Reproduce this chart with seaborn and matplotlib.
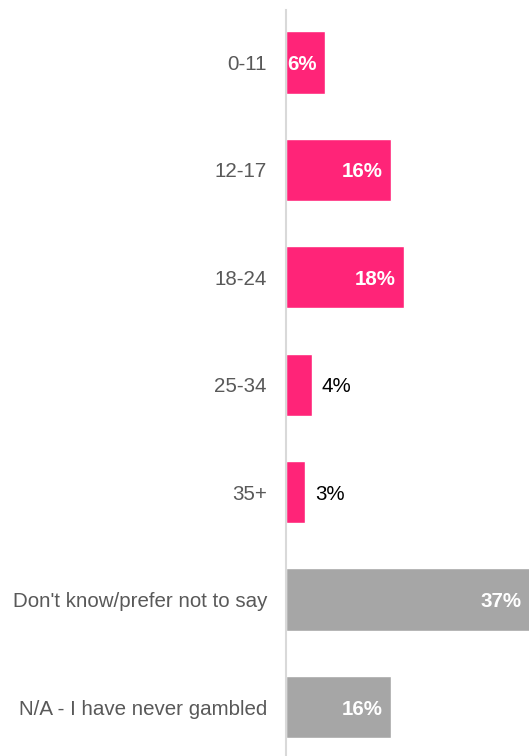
import matplotlib
matplotlib.use("Agg")
import matplotlib.pyplot as plt
import seaborn as sns
import pandas as pd

categories = ["0-11", "12-17", "18-24", "25-34", "35+",
              "Don't know/prefer not to say", "N/A - I have never gambled"]
values = [6, 16, 18, 4, 3, 37, 16]
groups = ["age", "age", "age", "age", "age", "other", "other"]

palette = {"age": "#FF2478", "other": "#A6A6A6"}

df = pd.DataFrame({"category": categories, "value": values, "group": groups})

sns.set_theme(style="white")
plt.rcParams["font.family"] = ["Liberation Sans", "DejaVu Sans"]

fig = plt.figure(figsize=(5.29, 7.56), dpi=100)
ax = fig.add_axes([285.7 / 529, 0, 1 - 285.7 / 529, 746 / 756])

sns.barplot(data=df, x="value", y="category", hue="group", palette=palette,
            dodge=False, width=0.58, legend=False, ax=ax, saturation=1)

ax.set_xlim(0, 36.9)
ax.set_ylim(6.456, -0.488)
ax.set_xlabel("")
ax.set_ylabel("")
ax.set_xticks([])
ax.tick_params(axis="y", length=0, pad=13.5, labelsize=14.8, labelcolor="#595959")
for lbl in ax.get_yticklabels():
    lbl.set_verticalalignment("center_baseline")

for side in ["top", "right", "bottom"]:
    ax.spines[side].set_visible(False)
ax.spines["left"].set_color("#D9D9D9")
ax.spines["left"].set_linewidth(1.5)

for i, v in enumerate(values):
    label = f"{v}%"
    if v >= 5:
        ax.annotate(label, xy=(v, i), xytext=(-6, 0), textcoords="offset points",
                    ha="right", va="center_baseline", color="white",
                    fontweight="bold", fontsize=14.8, annotation_clip=False)
    else:
        ax.annotate(label, xy=(v, i), xytext=(7, 0), textcoords="offset points",
                    ha="left", va="center_baseline", color="black", fontsize=14.8,
                    annotation_clip=False)

fig.savefig("out.png", dpi=100)
